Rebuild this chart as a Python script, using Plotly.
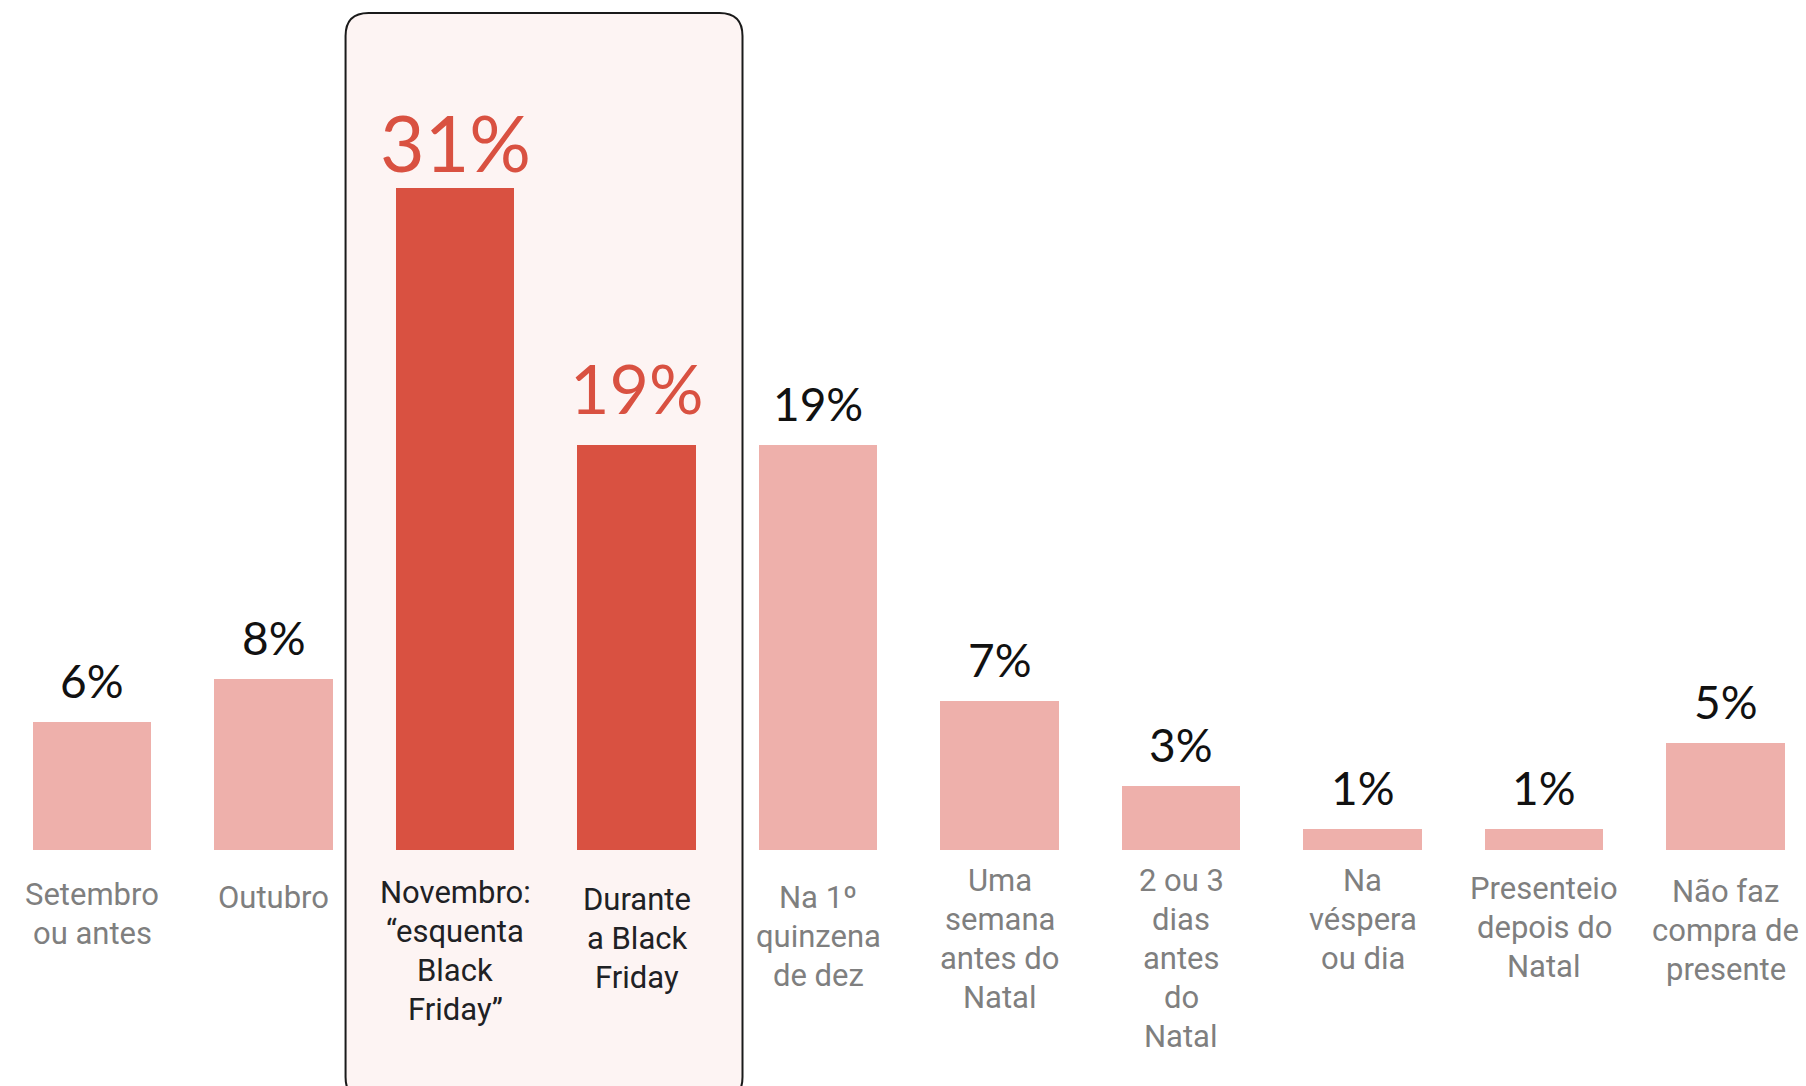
import plotly.graph_objects as go

# ---- data ----
categories = [
    "Setembro ou antes", "Outubro", "Novembro: “esquenta Black Friday”",
    "Durante a Black Friday", "Na 1º quinzena de dez", "Uma semana antes do Natal",
    "2 ou 3 dias antes do Natal", "Na véspera ou dia", "Presenteio depois do Natal",
    "Não faz compra de presente",
]
tick_labels = [
    "Setembro<br>ou antes", "Outubro", "Novembro:<br>“esquenta<br>Black<br>Friday”",
    "Durante<br>a Black<br>Friday", "Na 1º<br>quinzena<br>de dez", "Uma<br>semana<br>antes do<br>Natal",
    "2 ou 3<br>dias<br>antes<br>do<br>Natal", "Na<br>véspera<br>ou dia", "Presenteio<br>depois do<br>Natal",
    "Não faz<br>compra de<br>presente",
]
values = [6, 8, 31, 19, 19, 7, 3, 1, 1, 5]
highlight = [False, False, True, True, False, False, False, False, False, False]

# ---- styles ----
DARK = "#D95141"
LIGHT = "#EEB0AB"
BOX_FILL = "#FDF4F3"
GREY = "#7F7F7F"
INK = "#202124"
W, H = 1806, 1086
MT, MB = 0, 236
PH = H - MT - MB
PX_PER_CAT = 181.5
CAT0_PX = 92.0
label_baseline_px = [904, 907, 902, 909, 907, 890, 890, 890, 898, 901]
LINE_STEP = 39.0
LABEL_FS = 31
pct_size = [46, 46, 77, 68, 46, 46, 46, 46, 46, 46]
pct_gap = [12, 12, -2, 15, 12, 12, 12, 12, 12, 12]

x = list(range(len(categories)))
colors = [DARK if h else LIGHT for h in highlight]

fig = go.Figure()
fig.add_trace(go.Bar(
    x=x, y=values, marker=dict(color=colors, line=dict(width=0)),
    width=0.652, hoverinfo="skip", showlegend=False,
))

# percentage labels
for xi, v, h, fs, g in zip(x, values, highlight, pct_size, pct_gap):
    fig.add_annotation(
        x=xi, y=v, xref="x", yref="y", text=f"{v}%", showarrow=False,
        yanchor="bottom", xanchor="center", yshift=g,
        font=dict(family="Lato, Roboto, sans-serif", size=fs, color=DARK if h else "#111111"),
    )

# category labels (one annotation per line for tighter line spacing)
for xi, lab, h, bl in zip(x, tick_labels, highlight, label_baseline_px):
    for k, line in enumerate(lab.split("<br>")):
        top_px = bl - 30 + k * LINE_STEP
        fig.add_annotation(
            x=xi, y=(PH - (top_px - MT)) / PH, xref="x", yref="paper", text=line,
            showarrow=False, yanchor="top", xanchor="center", align="center",
            font=dict(family="Roboto, sans-serif", size=LABEL_FS, color=INK if h else GREY),
        )

# highlight box around highlighted categories
hi = [i for i, h in enumerate(highlight) if h]
x0, x1 = min(hi) - 0.603, max(hi) + 0.584
yt = (PH - (13 - MT)) / PH
yb = (PH - (1100 - MT)) / PH
rx, ry = 23 / PX_PER_CAT, 23 / PH
path = (f"M {x0},{yb+ry} L {x0},{yt-ry} Q {x0},{yt} {x0+rx},{yt} "
        f"L {x1-rx},{yt} Q {x1},{yt} {x1},{yt-ry} L {x1},{yb+ry} "
        f"Q {x1},{yb} {x1-rx},{yb} L {x0+rx},{yb} Q {x0},{yb} {x0},{yb+ry} Z")
fig.add_shape(type="path", path=path, xref="x", yref="paper", layer="below",
              fillcolor=BOX_FILL, line=dict(color="#1A1A1A", width=2))

x_lo = -CAT0_PX / PX_PER_CAT
x_hi = x_lo + W / PX_PER_CAT

fig.update_layout(
    width=W, height=H, margin=dict(l=0, r=0, t=MT, b=MB, pad=0),
    paper_bgcolor="white", plot_bgcolor="rgba(0,0,0,0)",
    xaxis=dict(range=[x_lo, x_hi], showticklabels=False, showgrid=False,
               zeroline=False, showline=False, fixedrange=True),
    yaxis=dict(range=[0, PH / 21.34], showticklabels=False, showgrid=False,
               zeroline=False, showline=False, fixedrange=True),
    bargap=0,
)

fig.write_html("out.html", config={"displayModeBar": False},
               post_script="document.body.style.margin='0';document.body.style.overflow='hidden';")
